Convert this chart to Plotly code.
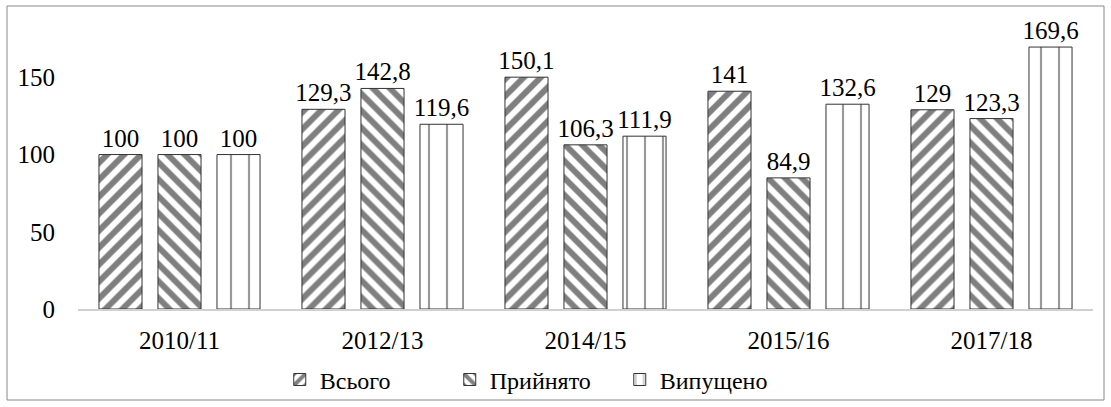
import plotly.graph_objects as go

categories = ["2010/11", "2012/13", "2014/15", "2015/16", "2017/18"]
series_names = ["Всього", "Прийнято", "Випущено"]
vsogo = [100, 129.3, 150.1, 141, 129]
pryiniato = [100, 142.8, 106.3, 84.9, 123.3]
vypushcheno = [100, 119.6, 111.9, 132.6, 169.6]
y_ticks = [0, 50, 100, 150]

FONT = "'Liberation Serif', 'Times New Roman', serif"
W, H = 1111, 407
L, R, T, B = 78, 18, 31, 98

def fmt(v):
    return f"{v:g}".replace(".", ",")

patterns = [
    dict(shape="/", fgcolor="#000000", bgcolor="white", size=12, solidity=0.5),
    dict(shape="\\", fgcolor="#000000", bgcolor="white", size=12, solidity=0.5),
    dict(shape="|", fgcolor="#333333", bgcolor="white", size=18, solidity=0.12),
]

fig = go.Figure()
for name, vals, pat in zip(series_names, [vsogo, pryiniato, vypushcheno], patterns):
    fig.add_trace(go.Bar(
        name=name, x=categories, y=vals,
        text=[fmt(v) for v in vals], textposition="outside",
        textfont=dict(family=FONT, size=25, color="black"),
        constraintext="none",
        cliponaxis=False,
        marker=dict(color="white", pattern=pat, line=dict(color="#333333", width=1)),
    ))

pw = W - L - R
ph = H - T - B
fig.add_shape(type="rect", xref="paper", yref="paper",
              x0=(7 - L) / pw, x1=(1104 - L) / pw,
              y0=(H - B - 400) / ph, y1=(H - B - 6) / ph,
              line=dict(color="#888888", width=1), fillcolor="rgba(0,0,0,0)", layer="below")

fig.update_layout(
    width=W, height=H,
    margin=dict(l=L, r=R, t=T, b=B, autoexpand=False),
    plot_bgcolor="white", paper_bgcolor="white",
    barmode="group", bargap=0.128, bargroupgap=0.27,
    font=dict(family=FONT, size=24, color="black"),
    showlegend=True,
    legend=dict(orientation="h", x=0.45, xanchor="center", y=-0.255, yanchor="middle",
                font=dict(family=FONT, size=24, color="black"),
                entrywidth=125, entrywidthmode="pixels", itemwidth=30,
                bgcolor="rgba(0,0,0,0)"),
    xaxis=dict(showline=True, linecolor="#d0d0d0", linewidth=1.5, ticks="",
               tickfont=dict(family=FONT, size=25), ticklabelstandoff=8),
    yaxis=dict(range=[0, 180], tickvals=y_ticks, showgrid=False, zeroline=False,
               showline=False, ticks="", tickfont=dict(family=FONT, size=25),
               ticklabelstandoff=22),
)

fig.write_html("out.html", config={"displayModeBar": False},
               post_script="document.body.style.margin='0px';")
